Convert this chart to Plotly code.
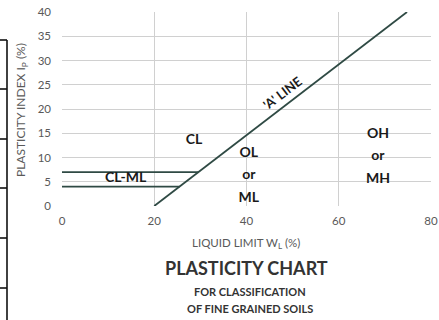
import plotly.graph_objects as go

# ---- data ----
a_line_ll = [20, 74.8]
a_line_pi = [0, 40]
clml_upper_ll = [0, 29.6]
clml_upper_pi = [7, 7]
clml_lower_ll = [0, 25.5]
clml_lower_pi = [4, 4]

label_text = ["CL", "CL-ML", "OL", "or", "ML", "OH", "or", "MH"]
label_ll = [28.6, 13.8, 40.5, 40.5, 40.5, 68.5, 68.5, 68.5]
label_pi = [13.6, 5.6, 10.9, 6.2, 1.6, 14.8, 10.2, 5.5]

x_ticks = [0, 20, 40, 60, 80]
y_ticks = [0, 5, 10, 15, 20, 25, 30, 35, 40]

table_rows_px = [40, 89, 139, 188, 238, 288]

W, H = 439, 320
L, R, T, B = 62, 8, 12, 114
pw, ph = W - L - R, H - T - B

line_col = "#2f4a44"
font_fam = "Lato, 'Open Sans', sans-serif"

fig = go.Figure()
for xs, ys in [(a_line_ll, a_line_pi), (clml_upper_ll, clml_upper_pi), (clml_lower_ll, clml_lower_pi)]:
    fig.add_trace(go.Scatter(x=xs, y=ys, mode="lines",
                             line=dict(color=line_col, width=1.8),
                             hoverinfo="skip", showlegend=False, cliponaxis=False))

fig.add_trace(go.Scatter(x=label_ll, y=label_pi, mode="text", text=label_text,
                         textfont=dict(family=font_fam, size=14, color="#1a1a1a", weight="bold"),
                         showlegend=False, hoverinfo="skip", cliponaxis=False))

def px_x(px):
    return (px - L) / pw

def px_y(py):
    return (H - B - py) / ph

shapes = [dict(type="line", xref="paper", yref="paper",
               x0=px_x(7), x1=px_x(7), y0=px_y(40), y1=px_y(322),
               line=dict(color="#111111", width=1.6))]
for r in table_rows_px:
    shapes.append(dict(type="line", xref="paper", yref="paper",
                       x0=px_x(-2), x1=px_x(7), y0=px_y(r), y1=px_y(r),
                       line=dict(color="#111111", width=1.6)))

def ann(x, y, text, size, color, bold=False, angle=0, ref="paper"):
    return dict(x=x, y=y, xref="x" if ref == "data" else "paper", yref="y" if ref == "data" else "paper",
                text=text, showarrow=False, textangle=angle, xanchor="center", yanchor="middle",
                font=dict(family=font_fam, size=size, color=color, weight="bold" if bold else "normal"))

annotations = [
    ann(47.7, 23.4, "'A' LINE", 13, "#1a1a1a", True, -37, "data"),
    ann(px_x(246), px_y(268), "PLASTICITY CHART", 18, "#333333", True),
    ann(px_x(250), px_y(291), "FOR CLASSIFICATION", 11, "#333333", True),
    ann(px_x(250), px_y(308), "OF FINE GRAINED SOILS", 11, "#333333", True),
    ann(px_x(246), px_y(243), "LIQUID LIMIT W<sub>L</sub> (%)", 11.5, "#595959"),
    ann(px_x(21), px_y(110), "PLASTICITY INDEX I<sub>P</sub> (%)", 12, "#595959", angle=-90),
]

fig.update_layout(
    width=W, height=H,
    margin=dict(l=L, r=R, t=T, b=B, autoexpand=False),
    paper_bgcolor="white", plot_bgcolor="white",
    shapes=shapes, annotations=annotations,
    font=dict(family=font_fam),
)
fig.update_xaxes(range=[0, 80], tickvals=x_ticks, showgrid=True, gridcolor="#d0d0d0", gridwidth=1,
                 zeroline=False, showline=False, ticks="", ticklabelstandoff=6, automargin=False,
                 tickfont=dict(family=font_fam, size=11.5, color="#595959"), fixedrange=True)
fig.update_yaxes(range=[0, 40], tickvals=y_ticks, showgrid=True, gridcolor="#d0d0d0", gridwidth=1,
                 zeroline=False, showline=False, ticks="", ticklabelstandoff=10, automargin=False,
                 tickfont=dict(family=font_fam, size=11.5, color="#595959"), fixedrange=True)

fig.write_html("out.html", config={"displayModeBar": False},
               post_script="document.body.style.margin='0';document.body.style.padding='0';")
